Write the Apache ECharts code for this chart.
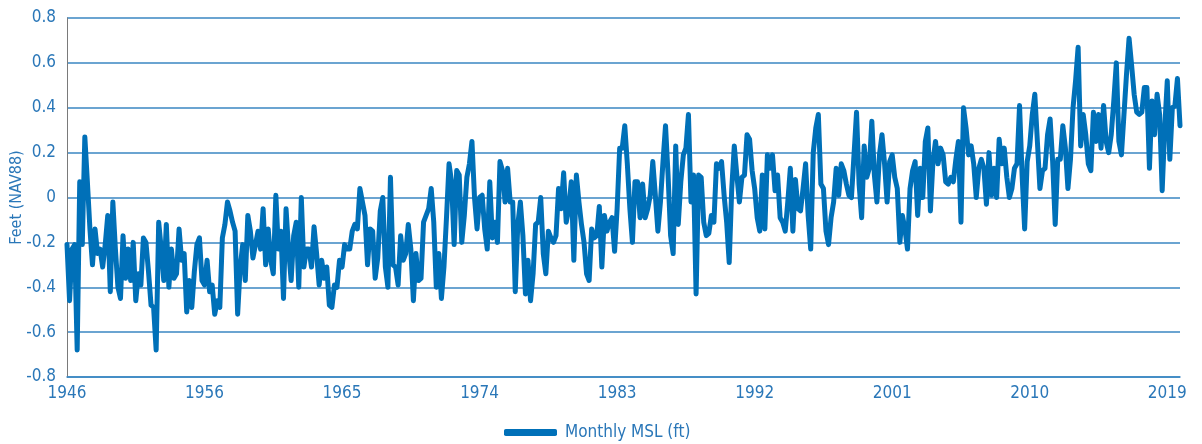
<!DOCTYPE html>
<html>
<head>
<meta charset="utf-8">
<script src="https://cdn.jsdelivr.net/npm/echarts@6/dist/echarts.min.js"></script>
<style>
html, body { margin: 0; padding: 0; background: #fff; }
#chart { width: 1202px; height: 444px; }
</style>
</head>
<body>
<div id="chart"></div>
<script>
// one sample every 2 months
const xTickLabels = ['1946', '1956', '1965', '1974', '1983', '1992', '2001', '2010', '2019']
const tickStep = 54 // samples between two year labels

const msl = [
  // 1946 - 1956
  -0.21, -0.46, -0.23, -0.21, -0.68, 0.07, -0.21, 0.27, 0.07, -0.14, -0.30, -0.14, -0.25, -0.23, -0.31, -0.21, -0.08, -0.42, -0.02, -0.23,
  -0.40, -0.45, -0.17, -0.36, -0.23, -0.37, -0.20, -0.46, -0.34, -0.39, -0.18, -0.20, -0.33, -0.48, -0.49, -0.68, -0.11, -0.23, -0.37, -0.12,
  -0.40, -0.23, -0.36, -0.34, -0.14, -0.28, -0.25, -0.51, -0.37, -0.49, -0.33, -0.21, -0.18, -0.37, -0.39, -0.28, -0.42, -0.39, -0.52, -0.46,
  -0.49, -0.18, -0.12, -0.02, -0.06, -0.11, -0.15, -0.52, -0.31, -0.21, -0.37, -0.08, -0.15, -0.27, -0.21, -0.15, -0.23, -0.05, -0.30, -0.14,
  // 1962 - 1972
  -0.28, -0.34, 0.01, -0.23, -0.15, -0.45, -0.05, -0.23, -0.37, -0.17, -0.11, -0.40, 0.00, -0.31, -0.23, -0.23, -0.31, -0.13, -0.25, -0.39,
  -0.28, -0.36, -0.31, -0.48, -0.49, -0.39, -0.40, -0.28, -0.31, -0.21, -0.23, -0.23, -0.15, -0.12, -0.14, 0.04, -0.02, -0.08, -0.30, -0.14,
  -0.15, -0.36, -0.27, -0.06, 0.00, -0.31, -0.40, 0.09, -0.30, -0.31, -0.39, -0.17, -0.28, -0.25, -0.12, -0.23, -0.46, -0.25, -0.37, -0.36,
  -0.11, -0.08, -0.05, 0.04, -0.11, -0.40, -0.25, -0.45, -0.31, -0.09, 0.15, 0.07, -0.21, 0.12, 0.10, -0.20, -0.08, 0.09, 0.15, 0.25,
  // 1973 - 1986
  0.00, -0.14, 0.00, 0.01, -0.14, -0.23, 0.07, -0.18, -0.11, -0.20, 0.16, 0.12, -0.02, 0.13, -0.02, -0.02, -0.42, -0.12, -0.02, -0.17,
  -0.43, -0.28, -0.46, -0.34, -0.12, -0.11, 0.00, -0.25, -0.34, -0.15, -0.18, -0.20, -0.17, 0.04, -0.05, 0.11, -0.11, -0.05, 0.07, -0.28,
  0.10, -0.02, -0.12, -0.20, -0.34, -0.37, -0.14, -0.18, -0.17, -0.04, -0.31, -0.08, -0.15, -0.11, -0.09, -0.24, -0.05, 0.22, 0.22, 0.32,
  0.15, -0.05, -0.20, 0.07, 0.07, -0.09, 0.06, -0.09, -0.05, 0.01, 0.16, 0.01, -0.15, -0.02, 0.16, 0.32, 0.10, -0.17, -0.25, 0.23,
  // 1986 - 1999
  -0.12, 0.07, 0.19, 0.22, 0.37, -0.02, 0.10, -0.43, 0.10, 0.09, -0.11, -0.17, -0.16, -0.08, -0.11, 0.15, 0.13, 0.16, 0.01, -0.11,
  -0.29, 0.04, 0.23, 0.10, -0.02, 0.09, 0.10, 0.28, 0.26, 0.12, 0.04, -0.09, -0.15, 0.10, -0.14, 0.19, 0.13, 0.19, 0.03, 0.10,
  -0.09, -0.11, -0.15, -0.02, 0.13, -0.15, 0.08, -0.05, -0.06, 0.04, 0.15, -0.08, -0.23, 0.20, 0.31, 0.37, 0.06, 0.04, -0.15, -0.21,
  -0.09, -0.02, 0.13, 0.01, 0.15, 0.12, 0.06, 0.01, 0.00, 0.19, 0.38, 0.06, -0.09, 0.23, 0.09, 0.13, 0.34, 0.10, -0.02, 0.19,
  // 1999 - 2019
  0.28, 0.15, -0.02, 0.16, 0.19, 0.09, 0.04, -0.20, -0.08, -0.14, -0.23, 0.04, 0.12, 0.16, -0.08, 0.13, 0.00, 0.25, 0.31, -0.06,
  0.16, 0.25, 0.15, 0.22, 0.19, 0.07, 0.06, 0.09, 0.07, 0.17, 0.25, -0.11, 0.40, 0.31, 0.19, 0.23, 0.15, 0.00, 0.13, 0.17,
  0.13, -0.03, 0.20, 0.01, 0.13, 0.00, 0.26, 0.15, 0.22, 0.09, 0.00, 0.04, 0.13, 0.15, 0.41, 0.10, -0.14, 0.16, 0.23, 0.37,
  0.46, 0.25, 0.04, 0.12, 0.13, 0.28, 0.35, 0.16, -0.12, 0.17, 0.17, 0.32, 0.22, 0.04, 0.17, 0.40, 0.52, 0.67, 0.23, 0.37,
  0.28, 0.15, 0.12, 0.38, 0.25, 0.37, 0.22, 0.41, 0.25, 0.20, 0.28, 0.43, 0.60, 0.25, 0.19, 0.37, 0.55, 0.71, 0.59, 0.46,
  0.38, 0.37, 0.38, 0.49, 0.49, 0.13, 0.43, 0.28, 0.46, 0.37, 0.03, 0.31, 0.52, 0.17, 0.40, 0.41, 0.53, 0.32
]

const font = "'Liberation Sans Narrow', 'DejaVu Sans Condensed', 'Liberation Sans', sans-serif"
const textColor = '#2a77b8'
const lineColor = '#0070b8'
const gridColor = '#3a86c2'

const chart = echarts.init(document.getElementById('chart'))

chart.setOption({
  animation: false,
  grid: {
    left: 67,
    right: 22,
    top: 18,
    bottom: 67,
    outerBoundsMode: 'none'
  },
  legend: {
    left: 499,
    top: 419,
    icon: 'roundRect',
    itemWidth: 53,
    itemHeight: 7,
    itemGap: 10,
    textStyle: {
      color: textColor,
      fontSize: 17,
      fontFamily: font,
      padding: [0, 0, 0, 3]
    },
    data: ['Monthly MSL (ft)']
  },
  xAxis: {
    type: 'value',
    min: 0,
    max: msl.length - 1,
    interval: tickStep,
    axisLine: {
      onZero: false,
      lineStyle: { color: gridColor, width: 1.5 }
    },
    axisTick: { show: false },
    splitLine: { show: false },
    axisLabel: {
      margin: 8,
      color: textColor,
      fontSize: 17,
      fontFamily: font,
      formatter: (v) => (v % tickStep === 0 ? xTickLabels[v / tickStep] : '')
    }
  },
  yAxis: {
    type: 'value',
    min: -0.8,
    max: 0.8,
    interval: 0.2,
    name: 'Feet (NAV88)',
    nameLocation: 'middle',
    nameGap: 42,
    nameMoveOverlap: false,
    nameTextStyle: {
      color: textColor,
      fontSize: 16,
      fontFamily: font
    },
    axisLine: {
      show: true,
      lineStyle: { color: '#7a7a7a', width: 1 }
    },
    axisTick: { show: false },
    splitLine: {
      lineStyle: { color: gridColor, width: 1.5 }
    },
    axisLabel: {
      margin: 11,
      color: textColor,
      fontSize: 17,
      fontFamily: font
    }
  },
  series: [
    {
      name: 'Monthly MSL (ft)',
      type: 'line',
      data: msl.map((v, i) => [i, v]),
      showSymbol: false,
      lineStyle: { width: 5, color: lineColor, cap: 'round', join: 'round' },
      itemStyle: { color: lineColor }
    }
  ]
})
</script>
</body>
</html>
